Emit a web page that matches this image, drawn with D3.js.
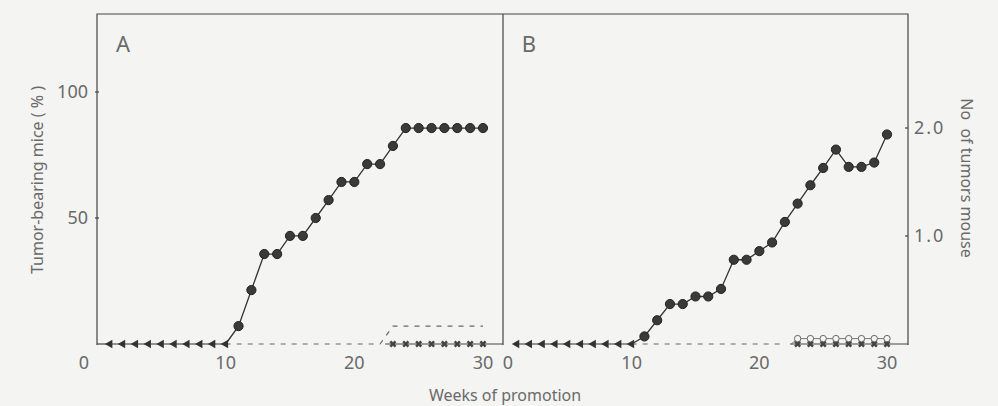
<!DOCTYPE html>
<html>
<head>
<style>
  body { margin: 0; background: #f4f4f2; }
  text { font-family: "Noto Sans", sans-serif; fill: #6a6a6a; }
</style>
</head>
<body>
<script src="https://cdn.jsdelivr.net/npm/d3@7"></script>
<script>

// weeks of promotion
const weeksPre = [1, 2, 3, 4, 5, 6, 7, 8, 9, 10];
const weeksPost = [11, 12, 13, 14, 15, 16, 17, 18, 19, 20, 21, 22, 23, 24, 25, 26, 27, 28, 29, 30];
const weeksLate = [23, 24, 25, 26, 27, 28, 29, 30];

// panel A: tumor-bearing mice (%)
const pctTreated = [7.1, 21.4, 35.7, 35.7, 42.9, 42.9, 50, 57.1, 64.3, 64.3, 71.4, 71.4, 78.6, 85.7, 85.7, 85.7, 85.7, 85.7, 85.7, 85.7];
const pctControlWeeks = [10, 22, 23, 30];
const pctControl = [0, 0, 7.1, 7.1];

// panel B: tumors per mouse
const perMouseTreated = [0.07, 0.22, 0.37, 0.37, 0.44, 0.44, 0.51, 0.78, 0.78, 0.86, 0.94, 1.13, 1.30, 1.47, 1.63, 1.80, 1.64, 1.64, 1.68, 1.94];
const perMouseControlWeeks = [10, 22];
const perMouseControl = [0, 0];
const perMouseOpen = [0.05, 0.05, 0.05, 0.05, 0.05, 0.05, 0.05, 0.05];

const xTicks = [0, 10, 20, 30];
const yTicksA = [50, 100];
const yTicksB = [1.0, 2.0];

const width = 998, height = 406;
const frameTop = 14, frameBottom = 345;
const leftA = 97, midX = 503, rightB = 908;
const ink = '#333';

const svg = d3.select('body').append('svg')
  .attr('width', width).attr('height', height);

const xA = d3.scaleLinear().domain([0, 30]).range([97, 483]);
const xB = d3.scaleLinear().domain([0, 30]).range([504, 887]);
const yA = d3.scaleLinear().domain([0, 100]).range([344, 92]);
const yB = d3.scaleLinear().domain([0, 2]).range([344, 128]);

// frame
const frame = svg.append('g').attr('stroke', '#444').attr('stroke-width', 1.2).attr('fill', 'none');
frame.append('path').attr('d', `M${leftA},${frameBottom}V${frameTop}H${rightB}V${frameBottom}`);
frame.append('line').attr('x1', midX).attr('x2', midX).attr('y1', frameTop).attr('y2', frameBottom);
frame.append('line').attr('x1', xA(22.4)).attr('x2', midX).attr('y1', yA(0)).attr('y2', yA(0));
frame.append('line').attr('x1', xB(22.4)).attr('x2', rightB).attr('y1', yB(0)).attr('y2', yB(0));
frame.append('line').attr('x1', leftA).attr('x2', xA(1)).attr('y1', yA(0)).attr('y2', yA(0));

// axes ticks
yTicksA.forEach(t => {
  frame.append('line').attr('x1', leftA - 2).attr('x2', leftA + 2).attr('y1', yA(t)).attr('y2', yA(t));
  svg.append('text').attr('x', 88).attr('y', yA(t)).attr('dy', '0.35em')
    .attr('text-anchor', 'end').attr('font-size', 18).text(t);
});
yTicksB.forEach(t => {
  frame.append('line').attr('x1', rightB - 3).attr('x2', rightB).attr('y1', yB(t)).attr('y2', yB(t));
  svg.append('text').attr('x', 914).attr('y', yB(t)).attr('dy', '0.35em')
    .attr('font-size', 18).attr('letter-spacing', 2).text(t.toFixed(1));
});
xTicks.forEach(t => {
  svg.append('text').attr('x', t === 0 ? xA(t) - 13 : xA(t)).attr('y', 363).attr('dy', '0.35em')
    .attr('text-anchor', 'middle').attr('font-size', 18).text(t);
  svg.append('text').attr('x', t === 0 ? xB(t) + 4 : xB(t)).attr('y', 363).attr('dy', '0.35em')
    .attr('text-anchor', 'middle').attr('font-size', 18).text(t);
});

// labels
svg.append('text').attr('x', 123).attr('y', 52).attr('text-anchor', 'middle').attr('font-size', 22).attr('fill', '#555').text('A');
svg.append('text').attr('x', 529).attr('y', 52).attr('text-anchor', 'middle').attr('font-size', 22).attr('fill', '#555').text('B');
svg.append('text').attr('x', 505).attr('y', 395).attr('dy', '0.35em')
  .attr('text-anchor', 'middle').attr('font-size', 16).text('Weeks of promotion');
svg.append('text').attr('transform', 'translate(37,180) rotate(-90)').attr('dy', '0.35em')
  .attr('text-anchor', 'middle').attr('font-size', 16).text('Tumor-bearing mice ( % )');
svg.append('text').attr('transform', 'translate(967,178) rotate(90)').attr('dy', '0.35em')
  .attr('text-anchor', 'middle').attr('font-size', 16).attr('xml:space', 'preserve').text('No  of tumors mouse');

function drawPanel(x, y, treated, ctrlWeeks, ctrl) {
  const g = svg.append('g');
  const line = d3.line().x(d => x(d[0])).y(d => y(d[1]));

  // control dashed line
  g.append('path')
    .datum(ctrlWeeks.map((w, i) => [w, ctrl[i]]))
    .attr('d', line).attr('fill', 'none').attr('stroke', '#666')
    .attr('stroke-width', 1.2).attr('stroke-dasharray', '5,6');

  // pre weeks: left triangles
  const pre = weeksPre.map(w => [w, 0]);
  g.append('path').datum(pre).attr('d', line).attr('fill', 'none').attr('stroke', ink).attr('stroke-width', 1.2);
  g.selectAll('.tri').data(pre).enter().append('path')
    .attr('d', d3.symbol(d3.symbolTriangle, 32))
    .attr('transform', d => `translate(${x(d[0])},${y(d[1])}) rotate(-90)`)
    .attr('fill', ink);

  // treated: filled circles
  const post = [[10, 0]].concat(weeksPost.map((w, i) => [w, treated[i]]));
  g.append('path').datum(post).attr('d', line).attr('fill', 'none').attr('stroke', ink).attr('stroke-width', 1.3);
  g.selectAll('.dot').data(post.slice(1)).enter().append('circle')
    .attr('cx', d => x(d[0])).attr('cy', d => y(d[1])).attr('r', 4.6)
    .attr('fill', '#3a3a3a').attr('stroke', '#222').attr('stroke-width', 1);

  // crosses at zero
  const late = weeksLate.map(w => [w, 0]);
  g.selectAll('.cross').data(late).enter().append('path')
    .attr('d', d3.symbol(d3.symbolCross, 30))
    .attr('transform', d => `translate(${x(d[0])},${y(d[1])}) rotate(45)`)
    .attr('fill', '#444');
  return g;
}

const gA = drawPanel(xA, yA, pctTreated, pctControlWeeks, pctControl);
const gB = drawPanel(xB, yB, perMouseTreated, perMouseControlWeeks, perMouseControl);

// panel B open markers just above zero
const openPts = weeksLate.map((w, i) => [w, perMouseOpen[i]]);
gB.append('path').datum([[22.5, 0]].concat(openPts))
  .attr('d', d3.line().x(d => xB(d[0])).y(d => yB(d[1])))
  .attr('fill', 'none').attr('stroke', '#777').attr('stroke-width', 1);
gB.selectAll('.open').data(openPts).enter().append('circle')
  .attr('cx', d => xB(d[0])).attr('cy', d => yB(d[1])).attr('r', 3.2)
  .attr('fill', '#f4f4f2').attr('stroke', '#666').attr('stroke-width', 1);

</script>
</body>
</html>
